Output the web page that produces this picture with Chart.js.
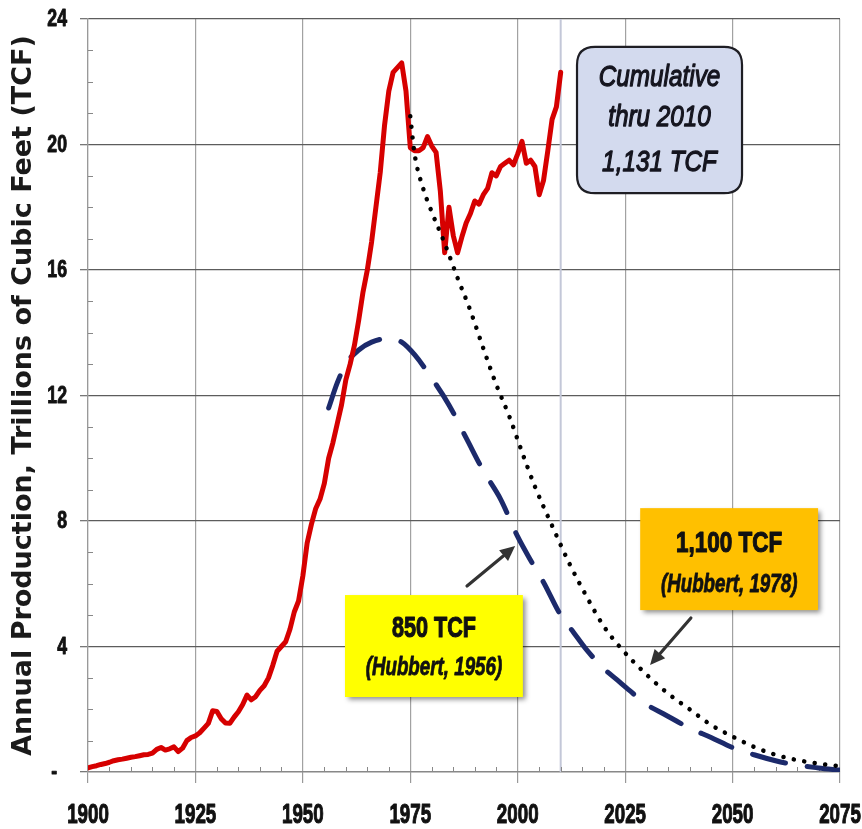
<!DOCTYPE html>
<html><head><meta charset="utf-8">
<script src="https://cdn.jsdelivr.net/npm/chart.js@4.4.1/dist/chart.umd.min.js"></script>
<style>html,body{margin:0;padding:0;background:#fff;}canvas{display:block;}</style>
</head><body>
<canvas id="c" width="862" height="829"></canvas>
<script>
// ---------- DATA ----------
const productionStartYear = 1900;
// Annual US natural gas production, TCF, 1900..2010
const production = [
  0.13,0.17,0.20,0.24,0.27,0.31,0.36,0.39,0.41,0.44,
  0.47,0.49,0.52,0.55,0.56,0.60,0.72,0.78,0.70,0.74,
  0.80,0.65,0.76,1.00,1.10,1.15,1.25,1.40,1.55,1.95,
  1.93,1.70,1.56,1.55,1.75,1.92,2.15,2.45,2.30,2.40,
  2.60,2.75,3.00,3.40,3.85,4.00,4.15,4.55,5.10,5.45,
  6.25,7.30,7.90,8.40,8.70,9.20,10.00,10.50,11.10,11.70,
  12.50,13.00,13.60,14.40,15.30,16.00,16.90,18.00,19.10,20.60,
  21.70,22.30,22.45,22.60,21.70,19.90,19.80,19.80,19.90,20.25,
  19.95,19.75,18.50,16.55,18.00,17.10,16.55,17.05,17.50,17.80,
  18.20,18.10,18.40,18.60,19.10,19.00,19.30,19.40,19.50,19.35,
  19.70,20.10,19.40,19.50,19.30,18.40,18.85,19.80,20.80,21.20,22.30
];
// Hubbert 1956 projection (850 TCF)
const hubbert1956Years  = [1956,1958,1960,1963,1966,1970,1973,1976,1980,1984,1988,1992,1996,2000,2003,2006,2010,2013,2016,2020,2023,2026,2030,2034,2040,2045,2050,2055,2060,2065,2070,2075];
const hubbert1956Values = [11.6,12.4,13.0,13.45,13.7,13.82,13.7,13.3,12.55,11.7,10.65,9.6,8.7,7.5,6.75,6.05,5.0,4.45,3.9,3.3,2.95,2.6,2.15,1.85,1.4,1.1,0.78,0.55,0.36,0.22,0.13,0.06];
// Hubbert 1978 projection (1,100 TCF)
const hubbert1978Years  = [1975,1976,1978,1980,1983,1986,1989,1992,1995,1998,2001,2004,2008,2012,2016,2020,2024,2030,2035,2040,2045,2050,2055,2060,2065,2070,2075];
const hubbert1978Values = [20.9,19.7,18.6,17.85,16.85,15.75,14.7,13.5,12.35,11.35,10.2,9.1,7.85,6.65,5.6,4.65,3.95,3.1,2.5,2.0,1.5,1.13,0.8,0.55,0.38,0.27,0.18];
// Axis ticks
const xTickYears = [1900,1925,1950,1975,2000,2025,2050,2075];
const yTickValues = [0,4,8,12,16,20,24];
const yTickLabels = ['-  ','4','8','12','16','20','24'];
const cutoffYear = 2010;
const yAxisTitle = 'Annual Production, Trillions of Cubic Feet (TCF)';
const cumulativeLines = ['Cumulative','thru 2010','1,131 TCF'];
const box1956Lines = ['850 TCF','(Hubbert, 1956)'];
const box1978Lines = ['1,100 TCF','(Hubbert, 1978)'];

// ---------- BUILD ----------
const prodPts = production.map((v,i)=>({x:productionStartYear+i,y:v}));
const h56Pts = hubbert1956Years.map((yr,i)=>({x:yr,y:hubbert1956Values[i]}));
const h78Pts = hubbert1978Years.map((yr,i)=>({x:yr,y:hubbert1978Values[i]}));

const SANS = '"Liberation Sans",Arial,sans-serif';

// condensed text (horizontal squeeze of Liberation Sans, like a narrow face)
function ntext(ctx,text,x,y,font,sx,align,baseline,color,thick){
  ctx.save();
  ctx.font=font;ctx.textAlign=align||'center';ctx.textBaseline=baseline||'middle';
  ctx.fillStyle=color||'#111';
  ctx.translate(x,y);ctx.scale(sx,1);ctx.fillText(text,0,0);
  if(thick){ctx.strokeStyle=color||'#111';ctx.lineWidth=thick;ctx.lineJoin='round';ctx.strokeText(text,0,0);}
  ctx.restore();
}
function roundRect(ctx,x,y,w,h,r){
  ctx.beginPath();
  ctx.moveTo(x+r,y);ctx.lineTo(x+w-r,y);ctx.quadraticCurveTo(x+w,y,x+w,y+r);
  ctx.lineTo(x+w,y+h-r);ctx.quadraticCurveTo(x+w,y+h,x+w-r,y+h);
  ctx.lineTo(x+r,y+h);ctx.quadraticCurveTo(x,y+h,x,y+h-r);
  ctx.lineTo(x,y+r);ctx.quadraticCurveTo(x,y,x+r,y);ctx.closePath();
}
function arrow(ctx,x1,y1,x2,y2){
  const a=Math.atan2(y2-y1,x2-x1), L=15, W=7;
  const bx=x2-L*Math.cos(a), by=y2-L*Math.sin(a);
  ctx.save();
  ctx.strokeStyle='#333';ctx.fillStyle='#333';ctx.lineWidth=3.2;ctx.lineCap='round';
  ctx.beginPath();ctx.moveTo(x1,y1);ctx.lineTo(bx,by);ctx.stroke();
  ctx.beginPath();ctx.moveTo(x2,y2);
  ctx.lineTo(bx+W*Math.sin(a),by-W*Math.cos(a));
  ctx.lineTo(bx-W*Math.sin(a),by+W*Math.cos(a));
  ctx.closePath();ctx.fill();
  ctx.restore();
}

const decor = {
  id:'decor',
  beforeDatasetsDraw(chart){
    const {ctx,scales:{x,y},chartArea:ca}=chart;
    ctx.save();
    // 2010 cutoff line
    ctx.strokeStyle='#c3c7d8';ctx.lineWidth=2;
    const cx=x.getPixelForValue(cutoffYear);
    ctx.beginPath();ctx.moveTo(cx,ca.top);ctx.lineTo(cx,ca.bottom);ctx.stroke();
    // minor ticks
    ctx.strokeStyle='#888';ctx.lineWidth=1;
    for(let v=1;v<24;v++){ if(v%4===0) continue;
      const py=Math.round(y.getPixelForValue(v))+0.5;
      ctx.beginPath();ctx.moveTo(ca.left,py);ctx.lineTo(ca.left+5,py);ctx.stroke();}
    for(let yr=1905;yr<2075;yr+=5){ if(yr%25===0) continue;
      const px=Math.round(x.getPixelForValue(yr))+0.5;
      ctx.beginPath();ctx.moveTo(px,ca.bottom);ctx.lineTo(px,ca.bottom-5);ctx.stroke();}
    ctx.restore();
    // tick labels (narrow bold)
    xTickYears.forEach(v=>ntext(ctx,String(v),x.getPixelForValue(v),ca.bottom+51,'bold 28px '+SANS,0.67,'center','alphabetic','#111',1.1));
    yTickValues.forEach((v,i)=>ntext(ctx,yTickLabels[i],67,y.getPixelForValue(v)+1,'bold 23px '+SANS,0.77,'right','middle','#111',0.9));
  },
  afterDraw(chart){
    const {ctx,scales:{x,y}}=chart;
    const X=v=>x.getPixelForValue(v), Y=v=>y.getPixelForValue(v);
    ctx.save();
    // Cumulative box
    const cx0=X(2013.8), cx1=X(2052.2), cy0=Y(23.11), cy1=Y(18.45);
    roundRect(ctx,cx0,cy0,cx1-cx0,cy1-cy0,18);
    ctx.fillStyle='#d3daee';ctx.fill();
    ctx.lineWidth=2.2;ctx.strokeStyle='#1e1e24';ctx.stroke();
    const cmid=(cx0+cx1)/2;
    [22.12,20.84,19.42].forEach((v,i)=>ntext(ctx,cumulativeLines[i],cmid,Y(v),'italic 30px '+SANS,0.81,'center','middle','#15151f',1.3));
    function shadowBox(x0,x1,y0,y1,color){
      ctx.save();
      ctx.shadowColor='rgba(0,0,0,0.45)';ctx.shadowBlur=5;ctx.shadowOffsetX=3;ctx.shadowOffsetY=3;
      ctx.fillStyle=color;ctx.fillRect(x0,y0,x1-x0,y1-y0);
      ctx.restore();
    }
    // Yellow 1956 box
    const yx0=X(1959.8), yx1=X(2001.2), yy0=Y(5.64), yy1=Y(2.39);
    shadowBox(yx0,yx1,yy0,yy1,'#ffff00');
    ntext(ctx,box1956Lines[0],(yx0+yx1)/2,Y(4.56),'bold 30px '+SANS,0.72,'center','middle','#111',1.2);
    ntext(ctx,box1956Lines[1],(yx0+yx1)/2,Y(3.3),'italic bold 25px '+SANS,0.75,'center','middle','#111',0.8);
    // Orange 1978 box
    const ox0=X(2028.5), ox1=X(2069.9), oy0=Y(8.41), oy1=Y(5.16);
    shadowBox(ox0,ox1,oy0,oy1,'#ffc000');
    ntext(ctx,box1978Lines[0],(ox0+ox1)/2,Y(7.28),'bold 30px '+SANS,0.75,'center','middle','#111',1.2);
    ntext(ctx,box1978Lines[1],(ox0+ox1)/2,Y(5.95),'italic bold 25px '+SANS,0.75,'center','middle','#111',0.8);
    // arrows
    arrow(ctx,X(1988.2),Y(5.93),X(1999.4),Y(7.2));
    arrow(ctx,X(2040.3),Y(4.91),X(2030.8),Y(3.41));
    ctx.restore();
  }
};

new Chart(document.getElementById('c'),{
  type:'line',
  data:{datasets:[
    {label:'Hubbert 1978',data:h78Pts,borderColor:'#000',borderWidth:4.5,borderDash:[0.1,10.5],borderCapStyle:'round',pointRadius:0,cubicInterpolationMode:'monotone',fill:false,order:0},
    {label:'Production',data:prodPts,borderColor:'#d60000',borderWidth:5,borderJoinStyle:'round',borderCapStyle:'round',pointRadius:0,tension:0,fill:false,order:1},
    {label:'Hubbert 1956',data:h56Pts,borderColor:'#1c2a6b',borderWidth:5,borderDash:[34,22],borderCapStyle:'round',pointRadius:0,cubicInterpolationMode:'monotone',fill:false,order:2}
  ]},
  options:{
    responsive:false,animation:false,
    layout:{padding:{left:0,top:19,right:22,bottom:0}},
    plugins:{legend:{display:false},tooltip:{enabled:false}},
    scales:{
      x:{type:'linear',min:1900,max:2075,
        afterBuildTicks:s=>{s.ticks=xTickYears.map(v=>({value:v}));},
        afterFit:s=>{s.height=57;s.paddingLeft=0;s.paddingRight=0;},
        grid:{color:'#a2a2a2',lineWidth:1.2,tickLength:11,tickColor:'#999'},
        border:{color:'#888',width:1.2},
        ticks:{display:false}
      },
      y:{type:'linear',min:0,max:24,
        afterBuildTicks:s=>{s.ticks=yTickValues.map(v=>({value:v}));},
        afterFit:s=>{s.width=88;s.paddingTop=0;s.paddingBottom=0;},
        grid:{color:'#5c5c5c',lineWidth:1.3,tickLength:8,tickColor:'#777'},
        border:{color:'#999',width:1.2},
        ticks:{display:false},
        title:{display:true,text:yAxisTitle,color:'#1a1a1a',padding:{top:8,bottom:0},font:{family:'"DejaVu Sans",Verdana,sans-serif',size:27,weight:'bold'}}
      }
    }
  },
  plugins:[decor]
});
</script>
</body></html>
